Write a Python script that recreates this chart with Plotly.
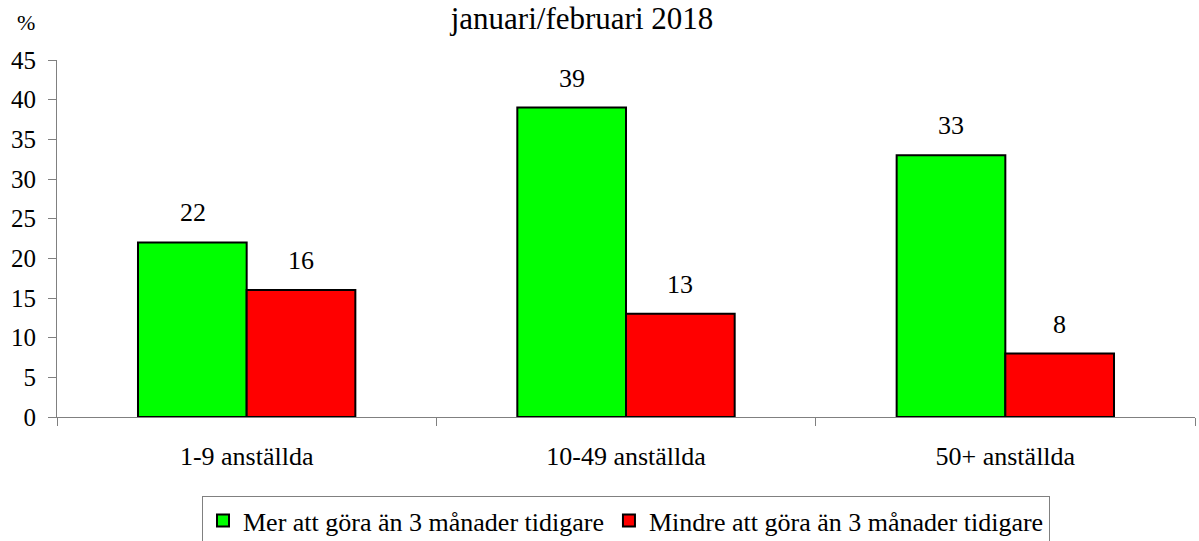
import plotly.graph_objects as go

# Data
categories = ["1-9 anställda", "10-49 anställda", "50+ anställda"]
mer_values = [22, 39, 33]
mindre_values = [16, 13, 8]
series_names = ["Mer att göra än 3 månader tidigare", "Mindre att göra än 3 månader tidigare"]
series_colors = ["#00ff00", "#ff0000"]

FONT = "Liberation Serif"

fig = go.Figure()

for name, values, color in zip(series_names, [mer_values, mindre_values], series_colors):
    fig.add_trace(go.Bar(
        x=categories,
        y=values,
        name=name,
        marker=dict(color=color, line=dict(color="black", width=2)),
    ))

# Value labels above bars (shifted onto each bar of the group)
annotations = []
bar_half = 54
for values, shift in [(mer_values, -bar_half), (mindre_values, bar_half)]:
    for cat, v in zip(categories, values):
        annotations.append(dict(
            x=cat, y=v, xref="x", yref="y",
            text=str(v), showarrow=False,
            xshift=shift, yshift=13, yanchor="bottom",
            font=dict(family=FONT, size=26, color="black"),
        ))

# "%" label above the y axis
annotations.append(dict(
    xref="paper", yref="paper",
    x=(26 - 57) / 1138, y=1 + (60 - 23) / 357,
    xanchor="center", yanchor="middle",
    text="%", showarrow=False,
    font=dict(family=FONT, size=22, color="black"),
))

fig.update_layout(
    width=1199,
    height=541,
    margin=dict(l=57, r=4, t=60, b=124, autoexpand=False),
    paper_bgcolor="white",
    plot_bgcolor="white",
    font=dict(family=FONT, size=26, color="black"),
    title=dict(
        text="januari/februari 2018",
        x=582 / 1199, xanchor="center",
        y=1 - 18 / 541, yanchor="middle", yref="container",
        font=dict(family=FONT, size=31, color="black"),
    ),
    barmode="group",
    bargap=0.427,
    bargroupgap=0,
    xaxis=dict(
        type="category",
        tickson="boundaries",
        ticks="outside",
        ticklen=8,
        tickcolor="#808080",
        showline=True,
        linecolor="#808080",
        linewidth=1,
        showgrid=False,
        automargin=False,
        ticklabelstandoff=16,
        tickfont=dict(family=FONT, size=26),
    ),
    yaxis=dict(
        range=[0, 45],
        tickvals=list(range(0, 50, 5)),
        ticks="outside",
        ticklen=8,
        tickcolor="#808080",
        showline=True,
        linecolor="#808080",
        linewidth=1,
        showgrid=False,
        zeroline=False,
        automargin=False,
        ticklabelstandoff=7,
        tickfont=dict(family=FONT, size=25),
    ),
    legend=dict(
        orientation="h",
        x=0.5, xanchor="center",
        y=(417 - 496) / 357, yanchor="top",
        bordercolor="#808080",
        borderwidth=1,
        bgcolor="white",
        font=dict(family=FONT, size=26),
        itemwidth=30,
    ),
    annotations=annotations,
)

# drop the default body margin so the 1199x541 figure fills the window
fig.write_html(
    "out.html",
    config={"displayModeBar": False},
    post_script="document.body.style.margin='0';",
)
